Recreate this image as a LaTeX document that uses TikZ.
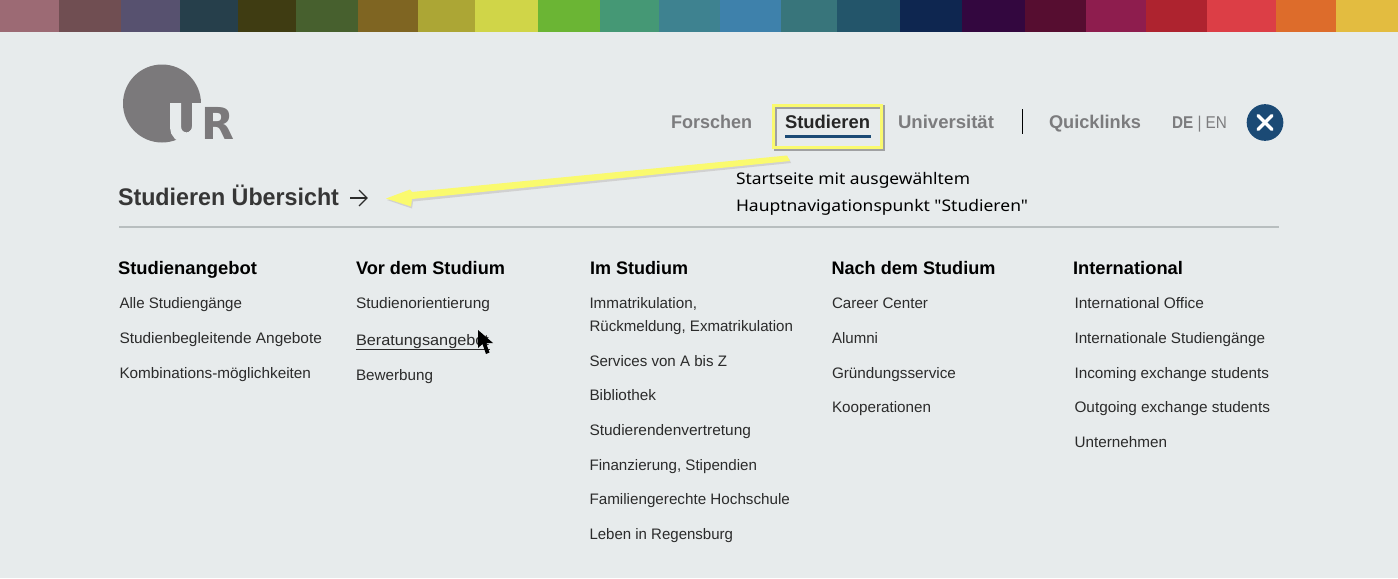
\documentclass[tikz,border=0pt]{standalone}
\usepackage{fontspec}
\usepackage{graphicx}
\setmainfont{Liberation Sans}
\newfontfamily\notefont{Noto Sans}
\newfontfamily\logofont{DejaVu Sans}
\usetikzlibrary{calc}
\definecolor{pagebg}{HTML}{E7EBEC}
\definecolor{ink}{HTML}{2B2B2B}
\definecolor{navgray}{HTML}{7C7C7E}
\definecolor{logogray}{HTML}{7B797B}
\definecolor{urblue}{HTML}{1B4A75}
\definecolor{hl}{HTML}{FAFA6E}
\definecolor{rulegray}{HTML}{B8BEBF}
\newsavebox\fitbox
\newcommand\fitw[2]{\sbox\fitbox{#2}\pgfmathsetmacro\fitr{0.75*#1/\wd\fitbox}\scalebox{\fitr}[1]{\usebox\fitbox}}
\tikzset{
  x=0.75pt,y=-0.75pt,
  txt/.style={anchor=base west,inner sep=0pt,outer sep=0pt},
  item/.style={txt,font=\fontsize{11.4pt}{13pt}\selectfont,text=ink},
  head/.style={txt,font=\fontsize{13.6pt}{15pt}\selectfont\bfseries,text=black},
  nav/.style={txt,font=\fontsize{13.8pt}{15pt}\selectfont\bfseries,text=navgray},
  note/.style={txt,font=\notefont\fontsize{12pt}{14pt}\selectfont,text=black},
}
\begin{document}
\begin{tikzpicture}
\useasboundingbox (0,0) rectangle (1398,578);
\fill[pagebg] (0,0) rectangle (1398,578);
% colour strip
\foreach \a/\b/\c in {0/59/9C6A74,59/121/704E52,121/180/57516F,180/238/263F4B,238/296/3F3C12,296/358/47602E,358/418/7F6522,418/475/ACA635,475/538/D0D548,538/600/6BB534,600/659/459875,659/720/3E8290,720/781/3E81AB,781/837/38757B,837/900/23556A,900/962/0E2650,962/1025/33073F,1025/1086/560D30,1086/1146/8E1D4E,1146/1207/AE232F,1207/1276/DC3E46,1276/1336/DD6C2B,1336/1398/E3BC40}{
  \definecolor{stripc}{HTML}{\c}
  \fill[stripc] (\a,0) rectangle (\b,32);
}
% logo
\fill[logogray] (162,103.5) circle[radius=39];
\draw[pagebg,line width=8.25pt] (175.5,103) -- (175.5,127) arc[start angle=180,end angle=0,radius=11] -- (197.5,103);
\node[txt,font=\logofont\fontsize{33pt}{33pt}\selectfont\bfseries,text=logogray] (logoR) at (201,139) {\fitw{33}{R}};
% navigation
\node[nav] (forschen) at (671,128) {\fitw{81}{Forschen}};
\node[nav,text=black!85] (studieren) at (785,128) {\fitw{85}{Studieren}};
\node[nav] (uni) at (898,128) {\fitw{96}{Universität}};
\node[nav] (quick) at (1049,128) {\fitw{92}{Quicklinks}};
\node[txt,font=\fontsize{12.8pt}{15pt}\selectfont,text=navgray] (lang) at (1172,128) {\fitw{55}{\textbf{DE} | EN}};
\draw[urblue,line width=2.6pt] (785,136.5) -- (871,136.5);
\draw[black,line width=0.6pt] (1022,109) -- (1022,134);
\node[circle,fill=urblue,minimum size=27.5pt,inner sep=0pt] (close) at (1265,122.5) {};
\draw[white,line width=2.5pt,line cap=round] ($(close)+(-7,-7)$) -- ($(close)+(7,7)$);
\draw[white,line width=2.5pt,line cap=round] ($(close)+(-7,7)$) -- ($(close)+(7,-7)$);
% highlight box
\node[draw=black!60,opacity=.55,line width=2.6pt,minimum width=81pt,minimum height=31.5pt,inner sep=0pt] (shadow) at (829.5,128) {};
\node[draw=hl,line width=2.8pt,minimum width=81pt,minimum height=31.5pt,inner sep=0pt] (hlbox) at (827.5,126.5) {};
% overview
\node[txt,font=\fontsize{18pt}{20pt}\selectfont\bfseries,text=ink!95] (over) at (118,205) {\fitw{221}{Studieren Übersicht}};
\coordinate (ovA) at (350,198);
\coordinate (ovB) at (367,198);
\draw[ink,line width=0.9pt] (ovA) -- (ovB);
\draw[ink,line width=0.9pt] ($(ovB)+(-8,-8)$) -- (ovB) -- ($(ovB)+(-8,8)$);
\draw[rulegray,line width=0.8pt] (119,227) -- (1279,227);
% yellow arrow
\coordinate (tip) at (386,198.5);
\coordinate (tail) at (787,155.5);
\fill[black!18] (789,159) -- (412,195) -- (411,193) -- (387,200) -- (412,208.5) -- (413,201.5) -- (791,163) -- cycle;
\fill[hl] (tail) -- (412,192) -- (410,189.5) -- (tip) -- (411,206.5) -- (412,199) -- (790,161) -- cycle;
% note
\node[note] (note1) at (736,184) {\fitw{234}{Startseite mit ausgewähltem}};
\node[note] (note2) at (736,211) {\fitw{292}{Hauptnavigationspunkt "Studieren"}};
% headings
\node[head] (h1) at (118,274) {\fitw{139}{Studienangebot}};
\node[head] (h2) at (356,274) {\fitw{149}{Vor dem Studium}};
\node[head] (h3) at (590,274) {\fitw{98}{Im Studium}};
\node[head] (h4) at (831.5,274) {\fitw{164}{Nach dem Studium}};
\node[head] (h5) at (1073,274) {\fitw{110}{International}};
% column 1
\node[item] (a1) at (119.5,308.8) {\fitw{122.5}{Alle Studiengänge}};
\node[item] (a2) at (119.5,343.8) {\fitw{202.5}{Studienbegleitende Angebote}};
\node[item] (a3) at (119.5,378.8) {\fitw{191.5}{Kombinations-möglichkeiten}};
% column 2
\node[item] (b1) at (356,308.8) {\fitw{134}{Studienorientierung}};
\node[item] (b2) at (356,345) {\fitw{133}{Beratungsangebot}};
\node[item] (b3) at (356,380) {\fitw{77}{Bewerbung}};
\draw[ink,line width=0.75pt] (356,349.5) -- (490,349.5);
% column 3
\node[item] (c1) at (589.5,308.8) {\fitw{107.5}{Immatrikulation,}};
\node[item] (c2) at (589.5,331) {\fitw{203.5}{Rückmeldung, Exmatrikulation}};
\node[item] (c3) at (589.5,366) {\fitw{137.5}{Services von A bis Z}};
\node[item] (c4) at (589.5,400.8) {\fitw{66.5}{Bibliothek}};
\node[item] (c5) at (589.5,435.8) {\fitw{161.5}{Studierendenvertretung}};
\node[item] (c6) at (589.5,470) {\fitw{167.5}{Finanzierung, Stipendien}};
\node[item] (c7) at (589.5,504.8) {\fitw{200.5}{Familiengerechte Hochschule}};
\node[item] (c8) at (589.5,539.8) {\fitw{143.5}{Leben in Regensburg}};
% column 4
\node[item] (d1) at (832,308.8) {\fitw{96}{Career Center}};
\node[item] (d2) at (832,343.8) {\fitw{46}{Alumni}};
\node[item] (d3) at (832,378.8) {\fitw{124}{Gründungsservice}};
\node[item] (d4) at (832,412.8) {\fitw{99}{Kooperationen}};
% column 5
\node[item] (e1) at (1074.5,308.8) {\fitw{129.5}{International Office}};
\node[item] (e2) at (1074.5,343.8) {\fitw{190.5}{Internationale Studiengänge}};
\node[item] (e3) at (1074.5,378.8) {\fitw{194.5}{Incoming exchange students}};
\node[item] (e4) at (1074.5,412.8) {\fitw{195.5}{Outgoing exchange students}};
\node[item] (e5) at (1074.5,447.8) {\fitw{92.5}{Unternehmen}};
% cursor
\fill[black] (478,330) -- (478,348) -- (482.5,344) -- (486,354) -- (489.5,352.5) -- (486,343) -- (493,343) -- cycle;
\end{tikzpicture}
\end{document}
